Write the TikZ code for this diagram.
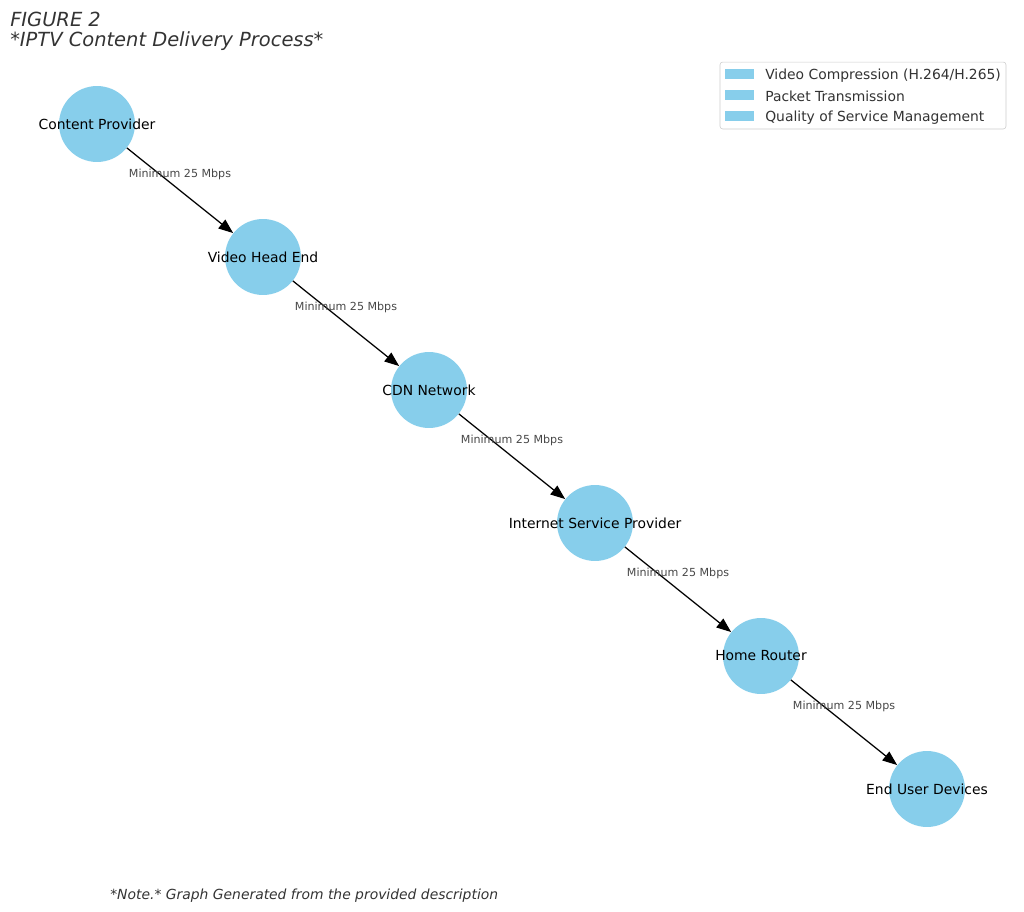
\documentclass[tikz,border=0pt]{standalone}
\usepackage{fontspec}
\setmainfont{DejaVu Sans}
\definecolor{iptvblue}{HTML}{87CEEB}
\definecolor{iptvgray}{HTML}{333333}
\definecolor{iptvline}{HTML}{CCCCCC}
\usetikzlibrary{arrows.meta,positioning}
\tikzset{
  stage/.style={circle,fill=iptvblue,minimum size=54.7pt,inner sep=0pt,
                label={[font=\fontsize{10}{12}\selectfont,text=black]center:#1}},
  arr/.style={-{Triangle[length=10.5pt,width=8pt]},line width=0.9pt,black},
  elab/.style={midway,yshift=11.9pt,font=\fontsize{8}{10}\selectfont,text=iptvgray!90,inner sep=0pt},
  keypatch/.style={rectangle,fill=iptvblue,minimum width=20.9pt,minimum height=7.2pt,inner sep=0pt},
  keytext/.style={anchor=west,font=\fontsize{10}{12}\selectfont,text=iptvgray,inner sep=0pt},
}

\begin{document}
\begin{tikzpicture}[x=0.72pt,y=-0.72pt]
  \useasboundingbox (0,0) rectangle (1024,912);
  % title
  \node[anchor=west,inner sep=0pt,font=\fontsize{14}{16}\selectfont\itshape,text=iptvgray]
    (fig) at (10,19.5) {FIGURE 2};
  \node[anchor=west,inner sep=0pt,font=\fontsize{14}{16}\selectfont\itshape,text=iptvgray]
    (ttl) at (10,41.5) {*IPTV Content Delivery Process*};
  % stages
  \node[stage=Content Provider] (cp) at (97,124) {};
  \node[stage=Video Head End] (vhe) at (263,257) {};
  \node[stage=CDN Network] (cdn) at (429,390) {};
  \node[stage=Internet Service Provider] (isp) at (595,523) {};
  \node[stage=Home Router] (hr) at (761,656) {};
  \node[stage=End User Devices] (eud) at (927,789) {};
  % links
  \draw[arr] (cp) -- node[elab]{Minimum 25 Mbps} (vhe);
  \draw[arr] (vhe) -- node[elab]{Minimum 25 Mbps} (cdn);
  \draw[arr] (cdn) -- node[elab]{Minimum 25 Mbps} (isp);
  \draw[arr] (isp) -- node[elab]{Minimum 25 Mbps} (hr);
  \draw[arr] (hr) -- node[elab]{Minimum 25 Mbps} (eud);
  % legend
  \node[draw=iptvline,rounded corners=2pt,fill=white,minimum width=205.9pt,
        minimum height=48.2pt,inner sep=0pt] (lgd) at (863,95.5) {};
  \node[keypatch] (k1) at (739.5,74) {};
  \node[keypatch] (k2) at (739.5,95) {};
  \node[keypatch] (k3) at (739.5,116) {};
  \node[keytext] (t1) at (765,75.5) {Video Compression (H.264/H.265)};
  \node[keytext] (t2) at (765,96.5) {Packet Transmission};
  \node[keytext] (t3) at (765,117.5) {Quality of Service Management};
  % note
  \node[anchor=west,inner sep=0pt,font=\fontsize{10}{12}\selectfont\itshape,text=iptvgray]
    (note) at (110,895.5) {*Note.* Graph Generated from the provided description};
\end{tikzpicture}
\end{document}
